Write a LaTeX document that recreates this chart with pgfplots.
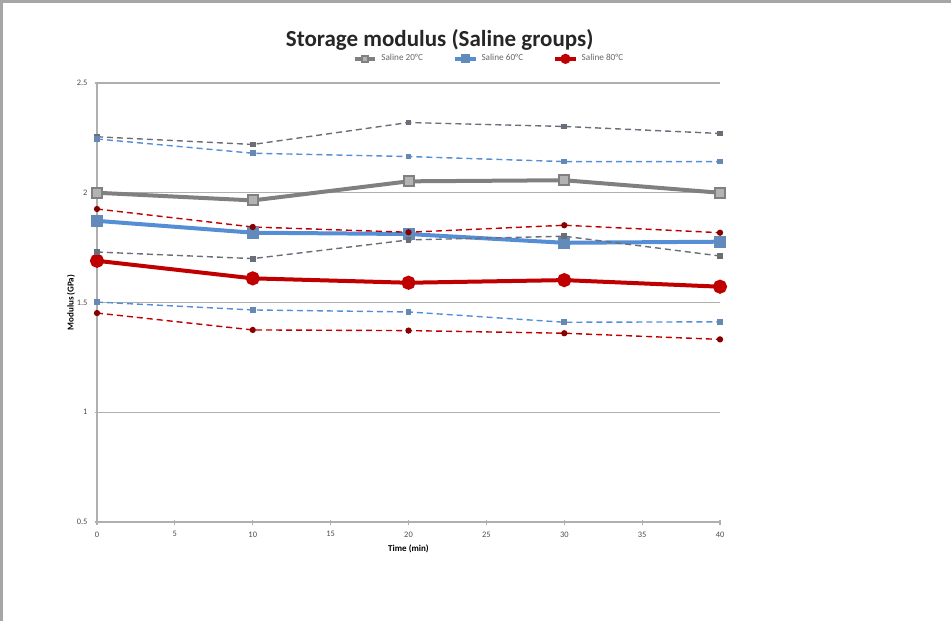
\documentclass[border=0pt]{standalone}
\usepackage{pgfplots}
\pgfplotsset{compat=1.18}
\usepackage{fontspec}
\setmainfont{Carlito}
\definecolor{cgray}{RGB}{128,128,128}
\definecolor{cblue}{RGB}{85,142,213}
\definecolor{cred}{RGB}{192,0,0}
\definecolor{cgrid}{RGB}{175,175,175}
\definecolor{dgray}{RGB}{105,110,120}
\begin{document}
\begin{tikzpicture}[x=1pt,y=1pt]
\useasboundingbox (0,0) rectangle (475.5,310.5);
\draw[gray!70, line width=1.5pt] (0.8,0) -- (0.8,309.8) -- (475.5,309.8);
\begin{axis}[
  at={(48.5pt,49.5pt)}, anchor=south west,
  scale only axis, width=311.5pt, height=219.5pt,
  xmin=0, xmax=40, ymin=0.5, ymax=2.5,
  xtick={0,5,...,40}, ytick={0.5,1,1.5,2,2.5},
  axis x line*=bottom, axis y line*=left,
  axis line style={cgrid, line width=0.8pt},
  ymajorgrids, grid style={cgrid, line width=0.6pt},
  tick style={cgrid, line width=0.6pt},
  major tick length=2.5pt,
  xtick pos=bottom, ytick pos=left,
  tick align=center,
  ticklabel style={font=\fontsize{4.2}{5}\selectfont, text=black!70},
  /pgf/number format/assume math mode=true,
  xlabel={Time (min)}, ylabel={Modulus (GPa)},
  label style={font=\bfseries\fontsize{4.5}{5.5}\selectfont},
  xlabel style={yshift=3pt},
  ylabel style={yshift=-6pt},
  title={Storage modulus (Saline groups)},
  title style={font=\bfseries\fontsize{11.5}{13}\selectfont, text=black!85, at={(0.55,1)}, anchor=south, yshift=7pt},
  legend style={at={(0.631,1.055)}, anchor=center, draw=none, fill=none,
    font=\fontsize{4.6}{5}\selectfont, text=black!60, legend columns=3,
    /tikz/every even column/.append style={column sep=13pt}},
  legend image post style={scale=0.6},
]
% mean curves
\addplot[cgray, line width=2pt, mark=square*, mark size=2.5pt, mark options={fill=cgray!60, draw=cgray, line width=1pt}]
  coordinates {(0,2.00) (10,1.965) (20,2.052) (30,2.057) (40,2.00)};
\addlegendentry{Saline 20°C}
\addplot[cblue, line width=2pt, mark=square*, mark size=2pt, mark options={fill=cblue!70!gray, draw=cblue!70!gray}]
  coordinates {(0,1.872) (10,1.818) (20,1.812) (30,1.772) (40,1.777)};
\addlegendentry{Saline 60°C}
\addplot[cred, line width=2pt, mark=*, mark size=2.5pt, mark options={fill=cred, draw=cred}]
  coordinates {(0,1.690) (10,1.610) (20,1.590) (30,1.602) (40,1.572)};
\addlegendentry{Saline 80°C}
% +/- SD curves
\addplot[dgray, line width=0.7pt, densely dashed, mark=square*, mark size=1.1pt, mark options={solid}, forget plot]
  coordinates {(0,2.255) (10,2.220) (20,2.320) (30,2.302) (40,2.270)};
\addplot[dgray, line width=0.7pt, densely dashed, mark=square*, mark size=1.1pt, mark options={solid}, forget plot]
  coordinates {(0,1.730) (10,1.700) (20,1.785) (30,1.802) (40,1.712)};
\addplot[cblue, line width=0.7pt, densely dashed, mark=square*, mark size=1.1pt, mark options={solid, fill=cblue!60!gray, draw=cblue!60!gray}, forget plot]
  coordinates {(0,2.245) (10,2.180) (20,2.165) (30,2.142) (40,2.142)};
\addplot[cblue, line width=0.7pt, densely dashed, mark=square*, mark size=1.1pt, mark options={solid, fill=cblue!60!gray, draw=cblue!60!gray}, forget plot]
  coordinates {(0,1.502) (10,1.466) (20,1.457) (30,1.410) (40,1.412)};
\addplot[cred, line width=0.7pt, densely dashed, mark=*, mark size=1.2pt, mark options={solid, fill=cred!70!black, draw=cred!70!black}, forget plot]
  coordinates {(0,1.926) (10,1.844) (20,1.820) (30,1.852) (40,1.818)};
\addplot[cred, line width=0.7pt, densely dashed, mark=*, mark size=1.2pt, mark options={solid, fill=cred!70!black, draw=cred!70!black}, forget plot]
  coordinates {(0,1.452) (10,1.375) (20,1.372) (30,1.360) (40,1.332)};
\end{axis}
\end{tikzpicture}
\end{document}
